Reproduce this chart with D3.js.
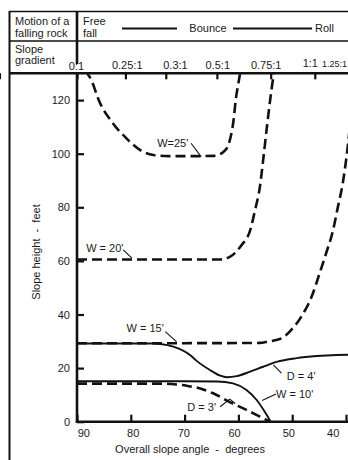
<!DOCTYPE html>
<html>
<head>
<meta charset="utf-8">
<script src="https://cdn.jsdelivr.net/npm/d3@7/dist/d3.min.js"></script>
<style>
  html, body { margin: 0; padding: 0; background: #fff; }
  svg { display: block; }
  text { font-family: "Liberation Sans", Arial, sans-serif; font-size: 11px; fill: #1a1a1a; white-space: pre; }
</style>
</head>
<body>
<svg id="chart" width="348" height="460"></svg>
<script>
// ---------- DATA (overall slope angle in degrees, slope height in feet) ----------
const xTicks = [90, 80, 70, 60, 50, 40];
const yTicks = [0, 20, 40, 60, 80, 100, 120];
const gradientLabels = ["0:1", "0.25:1", "0.3:1", "0.5:1", "0.75:1", "1:1", "1.25:1"];
const gradientAngles = [90, 81, 73.5, 64, 54, 45.8, 38.7];

const headerMotion = ["Motion of a", "falling rock"];
const headerFree = ["Free", "fall"];
const headerGradient = ["Slope", "gradient"];
const motionPhases = ["Bounce", "Roll"];
const xTitle = "Overall slope angle  -  degrees";
const yTitle = "Slope height  -  feet";

const curveW25 = [[88.6,131],[87.6,128.5],[85.7,118.8],[83.3,111.3],[80.8,105.7],[78.3,101.4],[75.8,99.5],[73,99.1],[68,99.1],[64.5,99.2],[62.6,101],[61.6,105],[60.9,112.5],[60.5,120],[60.0,126.3],[59.6,131]];
const curveW20 = [[90,60.5],[70,60.5],[63.5,60.5],[61.6,61.5],[59.4,65.9],[57.8,71.5],[56.9,79],[56.0,87.7],[55.4,97.6],[54.7,110],[54.1,120],[53.5,128.7],[53.3,131]];
const curveW15 = [[90,29.3],[70,29.3],[56,29.4],[54.5,29.9],[52.0,31.1],[50.2,34.2],[48.3,39.2],[46.4,46.6],[44.9,55.4],[43.7,62.8],[42.4,71.5],[41.5,80.2],[40.6,89],[39.9,98.9],[39.6,103.9],[39.2,112]];
const curveD4  = [[90,29.2],[76,29.2],[74.5,29.0],[72.1,28],[69,24.9],[67.7,22.6],[65.3,19.3],[63.4,17.2],[62.2,16.6],[60.3,17.0],[57.8,18.7],[55.4,20.5],[52.9,22.3],[49.2,23.7],[45.4,24.5],[41.7,24.9],[39,25]];
const curveW10 = [[90,15.1],[70,15.1],[64,15.0],[61,14.3],[58.5,11.8],[56.6,8.1],[55.1,3.7],[54.0,0]];
const curveD3  = [[90,14.2],[74,14.2],[71.5,13.9],[69.6,13.4],[67.1,12.4],[64.7,10.6],[61.6,7.3],[58.5,4.4],[56,1.9],[54.1,0]];

const curveNames  = ["W=25'", "W = 20'", "W = 15'", "D = 4'", "W = 10'", "D = 3'"];
const curveDashed = [true, true, true, false, false, true];
const curves = [curveW25, curveW20, curveW15, curveD4, curveW10, curveD3];
// label anchor (deg, ft) and leader polyline (deg, ft)
const labelAt = [[75.1,102.5],[88.3,63.3],[80.8,33.5],[51,15.4],[53.0,8.8],[69.5,4.0]];
const leaders = [
  [[68.8,103.9],[66.9,98.8]],
  [[81.4,64.1],[79.8,61]],
  [[73.6,33.6],[71.5,29.9]],
  [[52,18.1],[53.5,21.2]],
  [[53,10.3],[55.6,7.9]],
  [[63.4,5.6],[61.6,8.4],[60.6,6.8]]
];

// ---------- SCALES ----------
const svg = d3.select("#chart");
const x = d3.scaleLinear().domain([90, 40]).range([77, 346]);
const y = d3.scaleLinear().domain([0, 130]).range([421.7, 73.3]);
const W = 348;

// ---------- FRAME / HEADER ----------
const frame = svg.append("g").attr("stroke", "#111").attr("fill", "none");
frame.append("line").attr("x1", 9).attr("x2", W).attr("y1", 11.5).attr("y2", 11.5).attr("stroke-width", 1.4);
frame.append("line").attr("x1", 9.5).attr("x2", 9.5).attr("y1", 11).attr("y2", 460).attr("stroke-width", 2);
frame.append("line").attr("x1", 9).attr("x2", W).attr("y1", 41).attr("y2", 41).attr("stroke-width", 1.3);
frame.append("line").attr("x1", 9).attr("x2", W).attr("y1", y(130)).attr("y2", y(130)).attr("stroke-width", 2.6);
frame.append("line").attr("x1", x(90)).attr("x2", x(90)).attr("y1", 11).attr("y2", 64).attr("stroke-width", 2.6);
// Bounce / Roll lines
frame.append("line").attr("x1", 122).attr("x2", 177).attr("y1", 28.5).attr("y2", 28.5).attr("stroke-width", 2);
frame.append("line").attr("x1", 233).attr("x2", 312).attr("y1", 28.5).attr("y2", 28.5).attr("stroke-width", 2);

const hdr = svg.append("g");
headerMotion.forEach((t, i) => hdr.append("text").attr("x", 15).attr("y", 25 + i * 11.5).text(t));
headerFree.forEach((t, i) => hdr.append("text").attr("x", 83).attr("y", 25 + i * 11.5).text(t));
headerGradient.forEach((t, i) => hdr.append("text").attr("x", 15).attr("y", 52.5 + i * 11.5).text(t));
hdr.append("text").attr("x", 208).attr("y", 32).attr("text-anchor", "middle").text(motionPhases[0]);
hdr.append("text").attr("x", 315).attr("y", 32).text(motionPhases[1]);

// ---------- AXES ----------
// Left axis (ticks pointing inward)
const yAxis = d3.axisLeft(y).tickValues(yTicks).tickSizeInner(-7).tickSizeOuter(0).tickPadding(7);
const gy = svg.append("g").attr("transform", `translate(${x(90)},0)`).call(yAxis);
gy.select(".domain").remove();
gy.selectAll(".tick line").attr("stroke", "#111").attr("stroke-width", 2.2);
gy.selectAll(".tick text").attr("fill", "#1a1a1a");
svg.append("line").attr("x1", x(90)).attr("x2", x(90)).attr("y1", y(130)).attr("y2", y(0) + 1.2)
  .attr("stroke", "#111").attr("stroke-width", 2.6);

// Bottom axis
const xLabelShift = {90: 6.3, 80: 1.9, 70: -1.3, 60: -4.4, 50: -3.9, 40: -13.3};
const xAxis = d3.axisBottom(x).tickValues(xTicks).tickSizeInner(-7).tickSizeOuter(0).tickPadding(7.5);
const gx = svg.append("g").attr("transform", `translate(0,${y(0)})`).call(xAxis);
gx.select(".domain").remove();
gx.selectAll(".tick line").attr("stroke", "#111").attr("stroke-width", 2.2);
gx.selectAll(".tick text").attr("fill", "#1a1a1a").attr("dx", d => xLabelShift[d]);
svg.append("line").attr("x1", x(90) - 1.2).attr("x2", W).attr("y1", y(0)).attr("y2", y(0))
  .attr("stroke", "#111").attr("stroke-width", 2.6);

// Top gradient axis
const gLabelShift = [-1, 1.3, 9.2, 0.4, -5, -5, 0];
const topAxis = d3.axisTop(x).tickValues(gradientAngles).tickSizeInner(-6).tickSizeOuter(0).tickPadding(4.3)
  .tickFormat((d, i) => gradientLabels[i]);
const gt = svg.append("g").attr("transform", `translate(0,${y(130)})`).call(topAxis);
gt.select(".domain").remove();
gt.selectAll(".tick line").attr("stroke", "#111").attr("stroke-width", 2.2);
gt.selectAll(".tick text").attr("fill", "#1a1a1a")
  .attr("dx", (d, i) => gLabelShift[i])
  .attr("dy", (d, i) => (i === 0 ? 1 : (i >= 5 ? -2 : 0)));
// last gradient label sits at the right edge, slightly smaller, kept inside the picture
gt.selectAll(".tick").filter((d, i) => i === gradientLabels.length - 1)
  .attr("transform", null)
  .select("text").attr("x", W - 1).attr("text-anchor", "end").attr("dx", 0)
  .style("font-size", "9px");

// Axis titles
svg.append("text").attr("x", 190).attr("y", 453).attr("text-anchor", "middle").text(xTitle);
svg.append("text").attr("transform", "translate(40,252) rotate(-90)").attr("text-anchor", "middle").text(yTitle);

// ---------- CURVES ----------
svg.append("clipPath").attr("id", "plotClip").append("rect")
  .attr("x", x(90)).attr("y", y(130) + 1).attr("width", W - x(90)).attr("height", y(0) - y(130) - 1);

const line = d3.line().x(d => x(d[0])).y(d => y(d[1])).curve(d3.curveMonotoneX);
const plot = svg.append("g").attr("clip-path", "url(#plotClip)");
curves.forEach((c, i) => {
  plot.append("path").datum(c).attr("d", line)
    .attr("fill", "none").attr("stroke", "#111")
    .attr("stroke-width", curveDashed[i] ? 2.6 : 1.9)
    .attr("stroke-dasharray", curveDashed[i] ? "10,5" : null)
    .attr("stroke-linejoin", "round");
});

// ---------- ANNOTATIONS ----------
const lead = d3.line().x(d => x(d[0])).y(d => y(d[1]));
curveNames.forEach((n, i) => {
  svg.append("text").attr("x", x(labelAt[i][0])).attr("y", y(labelAt[i][1])).text(n);
  svg.append("path").datum(leaders[i]).attr("d", lead)
    .attr("fill", "none").attr("stroke", "#111").attr("stroke-width", 1.1);
});
</script>
</body>
</html>
